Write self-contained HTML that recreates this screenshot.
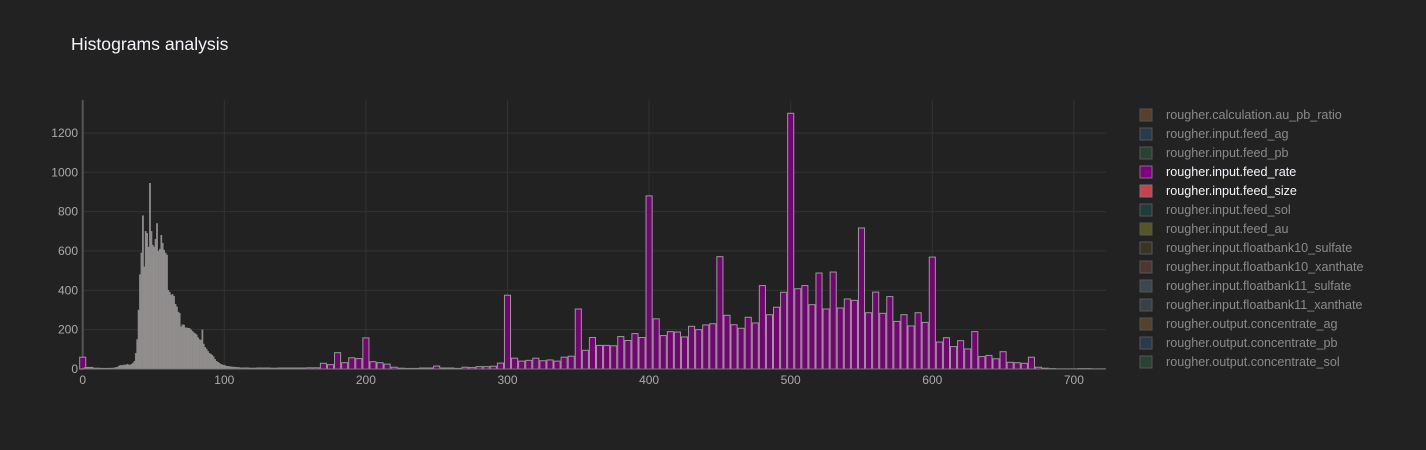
<!DOCTYPE html>
<html><head><meta charset="utf-8"><style>
body{margin:0;background:#222;}
svg{display:block;font-family:"Liberation Sans","DejaVu Sans",sans-serif;}
</style></head><body>
<svg id="chart" width="1426" height="450" viewBox="0 0 1426 450">
<rect x="0" y="0" width="1426" height="450" fill="#222"/>
<text x="71" y="50" fill="#f2f5fa" font-size="17.6">Histograms analysis</text>
<g id="grid"></g><g id="bars"></g><g id="axes"></g><g id="legend"></g>
</svg>
<script>
const xTicks=[0,100,200,300,400,500,600,700];
const yTicks=[0,200,400,600,800,1000,1200];
// feed_rate: bins of width 5 centered at 0,5,10,...
const rateCenters=[];for(let i=0;i<=144;i++)rateCenters.push(i*5);
const rateCounts=[60,8,4,3,3,3,2,2,2,3,3,2,2,3,2,3,2,3,3,4,3,4,4,5,4,5,5,4,5,5,5,5,6,6,29,22,83,32,57,53,158,37,32,25,9,4,3,3,5,5,15,5,5,3,9,7,12,12,14,30,375,55,40,44,55,42,46,40,60,65,305,95,160,120,120,118,165,145,180,160,880,255,170,190,188,163,217,200,224,230,571,273,225,207,263,234,424,276,314,390,1300,408,424,327,488,305,493,310,356,349,717,286,391,283,368,242,276,219,286,237,569,137,159,114,144,102,190,63,69,52,88,34,32,29,60,9,4,2,1,1,1,2,2,1,1];
// feed_size: bins of width 1 starting at 0
const sizeCounts=[5,8,6,5,4,4,4,3,4,3,4,4,3,4,3,3,4,3,4,5,4,5,6,8,10,15,18,20,18,22,20,25,22,20,25,30,40,80,150,300,480,590,780,520,700,690,620,944,700,630,620,660,740,600,610,680,640,605,590,580,400,390,376,380,370,330,317,290,284,215,225,224,210,209,208,207,200,192,185,180,175,160,150,147,200,127,110,102,90,80,76,70,62,50,40,35,30,25,22,20,18,15,14,13,12,11,10,10,9,8,8,6,5,5,5,4,4,4,3,3,3,3,3,3,2,2,2,2,2,2,2,2,3,2,2,3,2,2,2,3,2,2,2,2,2,3,2,2,2,2,2,2,2,2,2,2,2,1,2,1,2];
const legendNames=["rougher.calculation.au_pb_ratio","rougher.input.feed_ag","rougher.input.feed_pb","rougher.input.feed_rate","rougher.input.feed_size","rougher.input.feed_sol","rougher.input.feed_au","rougher.input.floatbank10_sulfate","rougher.input.floatbank10_xanthate","rougher.input.floatbank11_sulfate","rougher.input.floatbank11_xanthate","rougher.output.concentrate_ag","rougher.output.concentrate_pb","rougher.output.concentrate_sol"];
const legendColors=["#7a5532","#2c4a6a","#2e5a3e","#800080","#c9404e","#1e4e4b","#7a7829","#4a4320","#6c463f","#4a5e70","#4a5560","#7a5532","#2c4a6a","#2e5a3e"];
const legendActive=[0,0,0,1,1,0,0,0,0,0,0,0,0,0];

const NS="http://www.w3.org/2000/svg";
const X0=82.7,XS=1.416,Y0=369,YS=0.1967,PL=83,PR=1106,PT=100;
const xs=v=>X0+v*XS, ys=v=>Y0-v*YS;
function mk(tag,attrs,parent){const e=document.createElementNS(NS,tag);for(const k in attrs)e.setAttribute(k,attrs[k]);parent.appendChild(e);return e;}
const grid=document.getElementById('grid'),bars=document.getElementById('bars'),axes=document.getElementById('axes'),leg=document.getElementById('legend');
xTicks.forEach(t=>{
  if(t>0){const l=mk('line',{x1:xs(t),x2:xs(t),y1:PT,y2:Y0,stroke:'#333',"stroke-width":1},grid);
  
  }
  const tx=mk('text',{x:xs(t),y:384,fill:'#aaa',"font-size":12,"text-anchor":"middle"},axes);tx.textContent=t;
  
  
});
yTicks.forEach(t=>{
  if(t>0){const l=mk('line',{x1:PL,x2:PR,y1:ys(t),y2:ys(t),stroke:'#333',"stroke-width":1},grid);
  
  }
  const tx=mk('text',{x:78,y:ys(t)+4,fill:'#aaa',"font-size":12,"text-anchor":"end"},axes);tx.textContent=t;
  
  
});
const zl=mk('line',{x1:xs(0),x2:xs(0),y1:PT,y2:Y0,stroke:'#555',"stroke-width":2},grid);


rateCenters.forEach((c,i)=>{
  const v=rateCounts[i]||0;if(v<=0)return;
  const r=mk('rect',{x:xs(c-2.5)+0.5,y:ys(v),width:5*XS-1,height:v*YS,fill:'#730573',stroke:'#999',"stroke-width":1},bars);
  
  
});
sizeCounts.forEach((v,i)=>{
  if(v<=0)return;
  const r=mk('rect',{x:xs(i),y:ys(v),width:XS,height:v*YS,fill:'#8f8a8a',stroke:'#999',"stroke-width":0.3},bars);
  
  
});
const bl=mk('line',{x1:PL,x2:PR,y1:Y0,y2:Y0,stroke:'#777',"stroke-width":1},axes);


legendNames.forEach((n,i)=>{
  const y=115+i*19;
  const g=mk('g',{},leg);
  
  
  mk('rect',{x:1140,y:y-6,width:12,height:12,fill:legendColors[i],stroke:'#777',"stroke-width":1,opacity:legendActive[i]?1:0.6},g);
  const t=mk('text',{x:1166,y:y+4,fill:legendActive[i]?'#f2f5fa':'#8a8a8a',"font-size":12.6},g);t.textContent=n;
});
</script>
</body></html>
